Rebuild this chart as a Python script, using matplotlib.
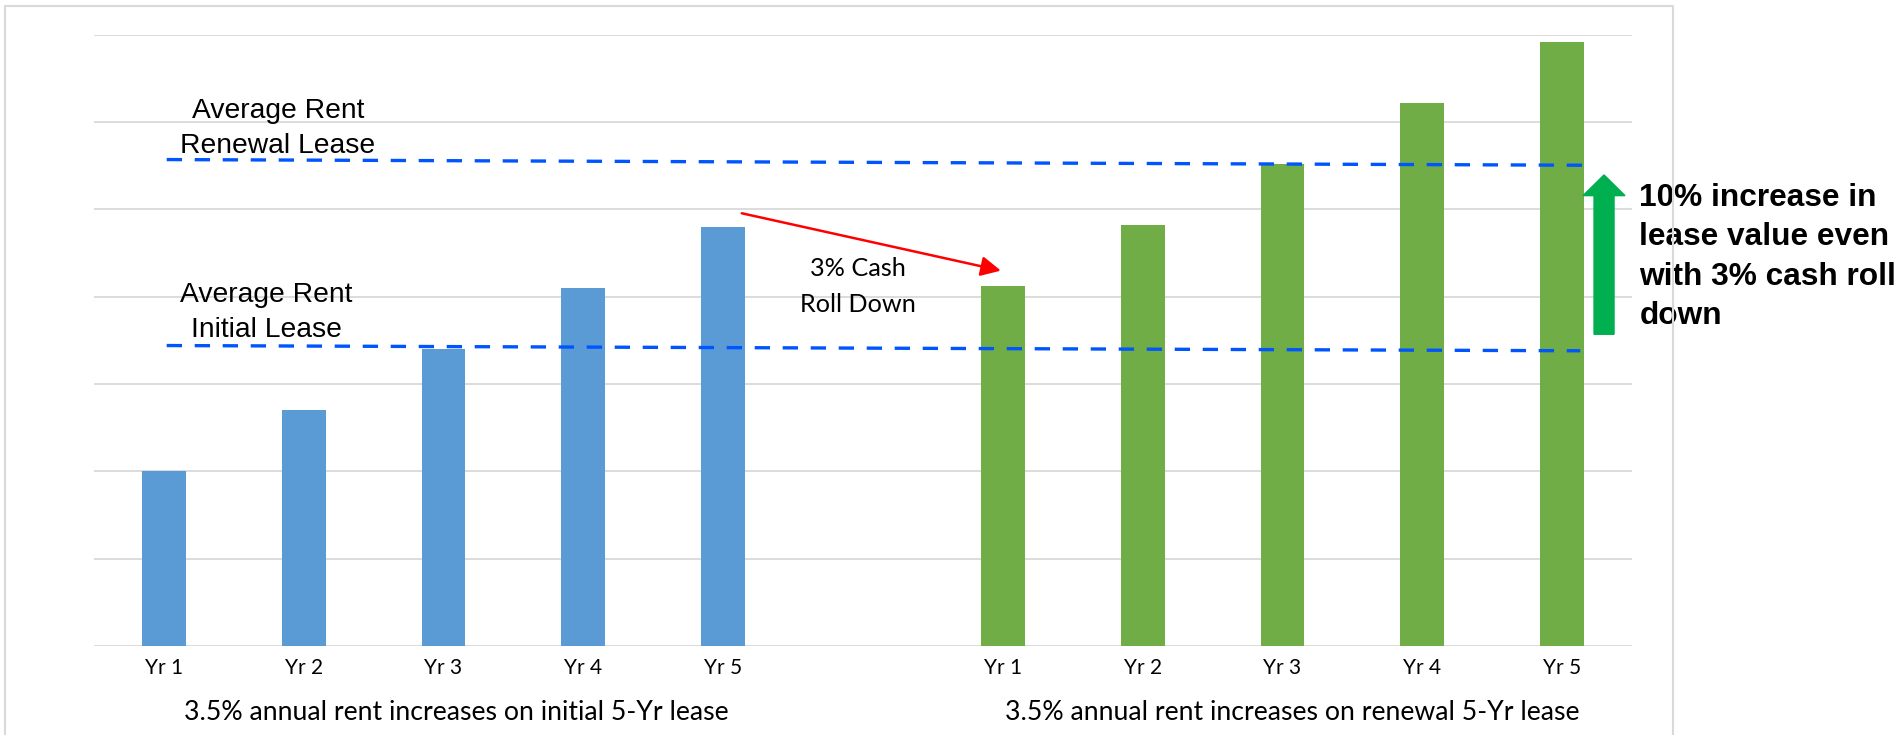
import matplotlib.pyplot as plt
from matplotlib.lines import Line2D
from matplotlib.patches import FancyArrow

plt.rcParams["figure.dpi"] = 100

years = ['Yr 1', 'Yr 2', 'Yr 3', 'Yr 4', 'Yr 5']
initial_rent = [2.0, 2.7, 3.4, 4.1, 4.8]
renewal_rent = [4.12, 4.82, 5.52, 6.22, 6.92]
initial_label = '3.5% annual rent increases on initial 5-Yr lease'
renewal_label = '3.5% annual rent increases on renewal 5-Yr lease'
# average rent dashed lines (value at start, value at end)
avg_initial = [3.44, 3.38]
avg_renewal = [5.57, 5.505]

x_initial = [0, 1, 2, 3, 4]
x_renewal = [6, 7, 8, 9, 10]

calibri = ['Lato', 'DejaVu Sans']
arial = ['Liberation Sans', 'DejaVu Sans']

fig = plt.figure(figsize=(19.01, 7.35), dpi=100)
ax = fig.add_axes([94 / 1901, 1 - 645.9 / 735, 1538 / 1901, 611.2 / 735])

ax.bar(x_initial, initial_rent, width=0.313, color='#5B9BD5', zorder=2)
ax.bar(x_renewal, renewal_rent, width=0.313, color='#70AD47', zorder=2)

ax.set_xlim(-0.5, 10.5)
ax.set_ylim(0, 7)
ax.set_yticks(range(8))
ax.set_yticklabels([])
ax.grid(axis='y', color='#D9D9D9', lw=1.3, zorder=0)
ax.set_axisbelow(True)
for s in ax.spines.values():
    s.set_visible(False)
ax.tick_params(axis='both', length=0)
ax.set_xticks(x_initial + x_renewal)
ax.set_xticklabels(years + years, fontsize=15, family=calibri)
ax.tick_params(axis='x', pad=9)

# average rent lines
ax.plot([0.02, 10.13], avg_initial, color='#0055FF', lw=2.4,
        dashes=(4.6, 3.8), zorder=3)
ax.plot([0.02, 10.15], avg_renewal, color='#0055FF', lw=2.4,
        dashes=(4.6, 3.8), zorder=3)
# va='baseline' puts the last line on y
ax.text(0.816, 5.646, 'Average Rent\nRenewal Lease', ha='center', va='baseline',
        fontsize=20.3, family=arial, linespacing=1.45)
ax.text(0.734, 3.542, 'Average Rent\nInitial Lease', ha='center', va='baseline',
        fontsize=20.3, family=arial, linespacing=1.45)

# roll down arrow
ax.annotate('', xy=(5.986, 4.298), xytext=(4.133, 4.955),
            arrowprops=dict(arrowstyle='-|>,head_length=0.6,head_width=0.3',
                            color='red', lw=1.8, mutation_scale=20,
                            shrinkA=0, shrinkB=0), zorder=4)
ax.text(4.965, 3.828, '3% Cash\nRoll Down', ha='center', va='baseline',
        fontsize=18.2, family=calibri, linespacing=1.66)

# increase arrow + note
ax.add_patch(FancyArrow(10.30, 3.569, 0, 1.825, width=0.143, head_width=0.30,
                        head_length=0.237, length_includes_head=True,
                        color='#00B050', clip_on=False, zorder=4))
ax.text(10.552, 3.687, '10% increase in\nlease value even\nwith 3% cash roll\ndown',
        ha='left', va='baseline', fontsize=22.8, fontweight='bold', family=arial,
        linespacing=1.41, clip_on=False)

# group labels
ax.text(2.089, -0.848, initial_label, ha='center', va='baseline',
        fontsize=19.2, family=calibri, clip_on=False)
ax.text(8.073, -0.848, renewal_label, ha='center', va='baseline',
        fontsize=19.2, family=calibri, clip_on=False)

# chart frame
fx = [5 / 1901, 5 / 1901, 1673 / 1901, 1673 / 1901]
fy = [-0.1, 1 - 6 / 735, 1 - 6 / 735, -0.1]
fig.add_artist(Line2D(fx, fy, transform=fig.transFigure, color='#D9D9D9', lw=1.5))

plt.savefig('out.png', dpi=100)
